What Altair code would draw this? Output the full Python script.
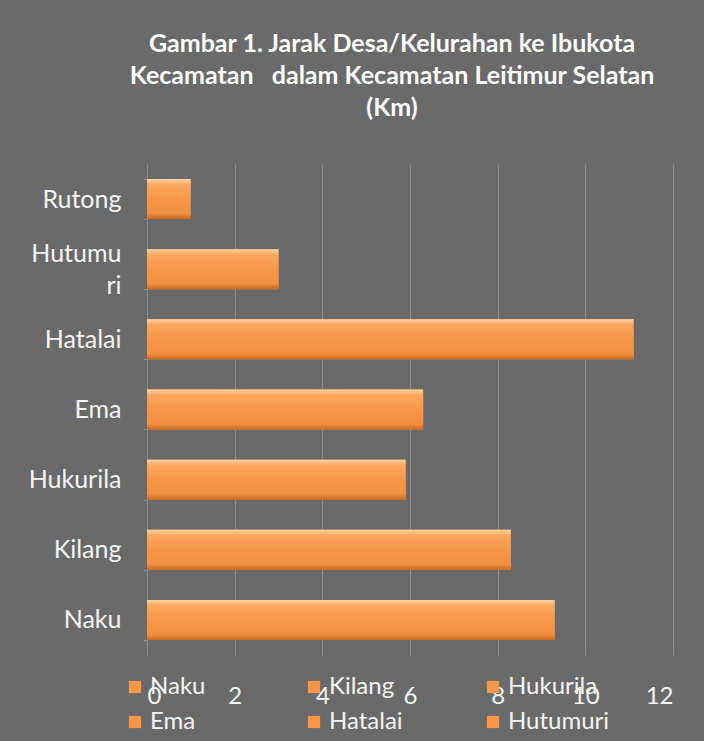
import altair as alt
import pandas as pd

# Data
villages = ["Naku", "Kilang", "Hukurila", "Ema", "Hatalai", "Hutumuri", "Rutong"]
distance_km = [9.3, 8.3, 5.9, 6.3, 11.1, 3.0, 1.0]
legend_items = ["Naku", "Kilang", "Hukurila", "Ema", "Hatalai", "Hutumuri"]
x_ticks = [0, 2, 4, 6, 8, 10, 12]
title_lines = [
    "Gambar 1. Jarak Desa/Kelurahan ke Ibukota",
    "Kecamatan \u00a0\u00a0dalam Kecamatan Leitimur Selatan",
    "(Km)",
]

df = pd.DataFrame({"Desa": villages, "Jarak": distance_km})

FONT = "Lato"
ORANGE = "#F79646"

x_enc = alt.X(
    "Jarak:Q",
    scale=alt.Scale(domain=[0, 12], nice=False),
    axis=alt.Axis(
        values=x_ticks,
        title=None,
        grid=True,
        gridColor="#8e8e8e",
        gridWidth=1,
        domain=False,
        ticks=False,
        labelColor="#f4f4f4",
        labelFont=FONT,
        labelFontSize=24,
        labelPadding=29,
    ),
)
y_enc = alt.Y(
    "Desa:N",
    sort=villages[::-1],
    scale=alt.Scale(paddingInner=0.43, paddingOuter=0.215),
    axis=alt.Axis(
        title=None,
        domain=True,
        domainColor="#8e8e8e",
        ticks=True,
        tickBand="extent",
        tickSize=4,
        tickColor="#8e8e8e",
        labelColor="#f4f4f4",
        labelFont=FONT,
        labelFontSize=25,
        labelPadding=22,
        labelLineHeight=32,
        labelOffset={"condition": {"test": "datum.label == 'Hutumuri'", "value": -16}, "value": 0},
        labelExpr="datum.label == 'Hutumuri' ? ['Hutumu', 'ri'] : datum.label",
    ),
)

base = alt.Chart(df)

legend_layer = (
    base.transform_filter(alt.datum.Desa != "Rutong")
    .mark_bar()
    .encode(
        x=x_enc,
        y=y_enc,
        color=alt.Color(
            "Desa:N",
            scale=alt.Scale(domain=legend_items, range=[ORANGE] * len(legend_items)),
            legend=alt.Legend(
                title=None,
                orient="none",
                legendX=-24,
                legendY=511,
                direction="horizontal",
                columns=3,
                gridAlign="all",
                columnPadding=50,
                rowPadding=11,
                symbolType="square",
                symbolSize=150,
                symbolStrokeWidth=0,
                symbolOffset=0,
                labelColor="#f4f4f4",
                labelFont=FONT,
                labelFontSize=24,
                labelOffset=3,
                labelLimit=200,
            ),
        ),
    )
)

grad = alt.Gradient(
    gradient="linear",
    x1=0, x2=0, y1=0, y2=1,
    stops=[
        alt.GradientStop(offset=0.0, color="#FCD2A4"),
        alt.GradientStop(offset=0.14, color="#FAA85E"),
        alt.GradientStop(offset=0.5, color="#F79646"),
        alt.GradientStop(offset=0.86, color="#F19040"),
        alt.GradientStop(offset=1.0, color="#C9691F"),
    ],
)

gradient_layer = base.mark_bar(color=grad).encode(x=x_enc, y=y_enc)

chart = (
    alt.layer(legend_layer, gradient_layer)
    .properties(
        width=526,
        height=491,
        autosize="none",
        padding={"left": 147, "top": 164, "right": 31, "bottom": 86},
        background="#6a6a6a",
        title=alt.TitleParams(
            text=title_lines,
            color="#ffffff",
            font=FONT,
            fontSize=25,
            fontWeight="bold",
            lineHeight=32,
            anchor="middle",
            dx=-18,
            offset=31,
        ),
    )
    .configure_view(stroke=None)
)

chart.save("out.html", embed_options={"renderer": "svg", "actions": False})
